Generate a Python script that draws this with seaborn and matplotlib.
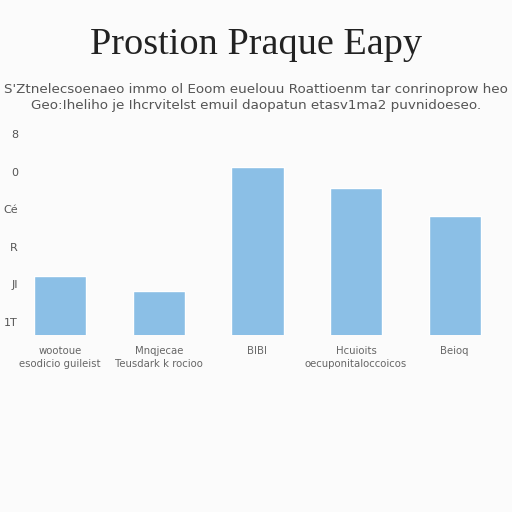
import matplotlib
matplotlib.use("Agg")
import matplotlib.pyplot as plt
import seaborn as sns
import pandas as pd

# datos
categorias = ["wootoue\nesodicio guileist", "Mnqjecae\nTeusdark k rocioo", "BIBI",
              "Hcuioits\noecuponitaloccoicos", "Beioq"]
valores = [22.3, 18.3, 51.4, 45.7, 38.3]
ticks_y = [10, 20, 30, 40, 50, 60]
etiquetas_y = ["1T", "JI", "R", "Cé", "0", "8"]

titulo = "Prostion Praque Eapy"
subtitulo = ("S'Ztnelecsoenaeo immo ol Eoom euelouu Roattioenm tar conrinoprow heo\n"
             "Geo:Iheliho je Ihcrvitelst emuil daopatun etasv1ma2 puvnidoeseo.")

sns.set_theme(style="white")
plt.rcParams['font.family'] = ['DejaVu Sans']

df = pd.DataFrame({"cat": categorias, "val": valores})

fig = plt.figure(figsize=(5.12, 5.12), dpi=100, facecolor="#fbfbfb")
ax = fig.add_axes([11/512, 1 - 335/512, 493/512, 210/512])
ax.set_facecolor("#fbfbfb")

sns.barplot(data=df, x="cat", y="val", color="#8bbfe6", saturation=1, width=0.53, ax=ax)

ax.set_ylim(6.53, 62.5)
ax.set_xlim(-0.5, 4.5)
ax.set_yticks(ticks_y)
ax.set_yticklabels(etiquetas_y, fontsize=8, color="#555555")
ax.tick_params(axis="y", pad=-5, length=0)
ax.tick_params(axis="x", pad=8, length=0)
for t in ax.get_xticklabels():
    t.set_fontsize(7.3)
    t.set_color("#666666")
    t.set_linespacing(1.4)
ax.set_xlabel("")
ax.set_ylabel("")
sns.despine(ax=ax, left=True, bottom=True)

fig.text(0.5, 1 - 45/512, titulo, ha="center", va="center", fontsize=27.5,
         family="Liberation Serif", color="#222222")
fig.text(0.5, 1 - 97/512, subtitulo, ha="center", va="center", fontsize=9.7,
         color="#555555", linespacing=1.3)

fig.savefig("out.png", dpi=100, facecolor=fig.get_facecolor())
